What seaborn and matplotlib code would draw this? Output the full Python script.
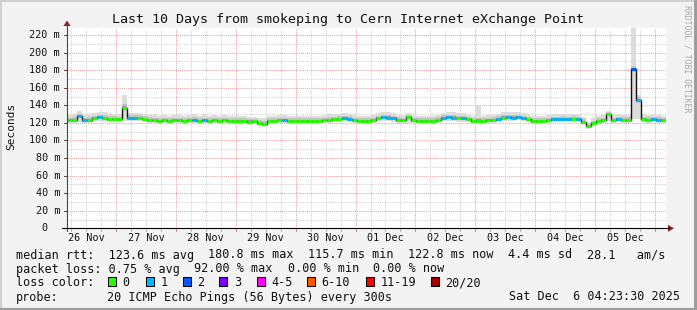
import numpy as np
import pandas as pd
import matplotlib
matplotlib.use("Agg")
import matplotlib.pyplot as plt
from matplotlib.lines import Line2D
from matplotlib.patches import Rectangle, Polygon
import seaborn as sns

# ---------------- data ----------------
title = "Last 10 Days from smokeping to Cern Internet eXchange Point"
end_time = pd.Timestamp("2025-12-06 04:23:30")
span_days = 10
step_hours = 2

median_ms = [
    123, 123, 128, 123, 123.5, 125, 127, 125, 124.5, 124.5,
    124, 137, 126, 126, 126, 124.5, 123.5, 123, 122.5, 123,
    122.5, 123, 123, 122.5, 123, 123.5, 122.5, 123, 122.5, 123,
    122.5, 123, 122.5, 122, 122.5, 122, 121.5, 122, 120, 119,
    122, 122.5, 123, 123, 122.5, 122.5, 122, 122.5, 122, 122.5,
    122.5, 123, 123.5, 124, 124.5, 125, 124.5, 123, 122.5, 122.5,
    122.5, 123, 125, 126.5, 126, 125, 123.5, 123, 127, 123,
    122.5, 122.5, 122.5, 122.5, 123.5, 126, 126.5, 126, 125, 125,
    124, 122.5, 122, 122.5, 123, 123.5, 124.5, 126, 126.5, 126,
    127, 125.5, 124, 122.5, 122, 122.5, 123, 124, 124, 124.5,
    124, 124.5, 124, 121, 116.5, 119.5, 122.5, 123, 130, 123,
    124, 123.5, 123.5, 180.8, 146, 124, 123.5, 124, 123.5, 122.8,
]
smoke_hi_ms = [
    129, 130, 133, 129, 130, 131, 132, 132, 131, 130,
    130, 152, 131, 131, 131, 130, 129, 129, 128, 129,
    128, 129, 129, 128, 129, 130, 128, 129, 128, 129,
    128, 129, 128, 128, 128, 128, 127, 127, 126, 125,
    128, 128, 129, 129, 128, 128, 128, 128, 128, 128,
    128, 129, 130, 130, 130, 131, 130, 129, 128, 128,
    128, 129, 131, 132, 132, 131, 129, 129, 131, 129,
    128, 128, 128, 128, 129, 131, 132, 132, 131, 131,
    130, 128, 140, 128, 129, 129, 130, 132, 132, 132,
    132, 131, 130, 128, 128, 128, 129, 130, 130, 130,
    130, 130, 130, 127, 121, 125, 128, 129, 134, 129,
    130, 129, 129, 228, 152, 130, 129, 130, 129, 128,
]
smoke_lo_ms = [
    119.5, 119.5, 121, 119.5, 120, 121, 122, 121, 121, 121,
    120.5, 122, 122, 122, 122, 121, 120, 119.5, 119, 119.5,
    119, 119.5, 119.5, 119, 119.5, 120, 119, 119.5, 119, 119.5,
    119, 119.5, 119, 118.5, 119, 118.5, 118, 118.5, 116.5, 115.5,
    118.5, 119, 119.5, 119.5, 119, 119, 118.5, 119, 118.5, 119,
    119, 119.5, 120, 120.5, 121, 121.5, 121, 119.5, 119, 119,
    119, 119.5, 121, 122.5, 122, 121, 120, 119.5, 120, 119.5,
    119, 119, 119, 119, 120, 122, 122.5, 122, 121, 121,
    120.5, 119, 118.5, 119, 119.5, 120, 121, 122, 122.5, 122,
    123, 122, 120.5, 119, 118.5, 119, 119.5, 120.5, 120.5, 121,
    120.5, 121, 120.5, 117.5, 113.5, 116, 119, 119.5, 122, 119.5,
    120.5, 120, 120, 124, 124, 120.5, 120, 120.5, 120, 119.5,
]
loss_pings = [
    0, 0, 1, 1, 0, 0, 1, 0, 0, 0,
    0, 0, 1, 1, 0, 0, 0, 0, 0, 0,
    0, 0, 0, 0, 0, 1, 0, 1, 0, 0,
    0, 0, 0, 0, 0, 0, 0, 0, 0, 0,
    0, 0, 0, 1, 0, 0, 0, 0, 0, 0,
    0, 0, 0, 0, 0, 1, 1, 0, 0, 0,
    0, 0, 0, 1, 1, 1, 0, 0, 0, 0,
    0, 0, 0, 0, 0, 1, 1, 1, 0, 1,
    0, 0, 0, 0, 0, 0, 1, 0, 1, 1,
    1, 1, 0, 0, 0, 0, 0, 1, 1, 1,
    1, 0, 1, 0, 0, 0, 0, 0, 0, 0,
    1, 0, 0, 2, 1, 0, 0, 1, 1, 0,
]

ytick_values = [0, 20, 40, 60, 80, 100, 120, 140, 160, 180, 200, 220]
ytick_labels = ["0", "20 m", "40 m", "60 m", "80 m", "100 m", "120 m",
                "140 m", "160 m", "180 m", "200 m", "220 m"]
y_label = "Seconds"

loss_names = ["0", "1", "2", "3", "4-5", "6-10", "11-19", "20/20"]
loss_colors = ["#26ff00", "#00b8ff", "#0059ff", "#7e00ff",
               "#ff00ff", "#ff5500", "#ff0000", "#a10000"]

legend_rtt = ["median rtt:  123.6 ms avg", "180.8 ms max", "115.7 ms min",
              "122.8 ms now", "4.4 ms sd", "28.1   am/s"]
legend_loss = ["packet loss: 0.75 % avg", "92.00 % max", "0.00 % min", "0.00 % now"]
legend_probe = "20 ICMP Echo Pings (56 Bytes) every 300s"
stamp = "Sat Dec  6 04:23:30 2025"
watermark = "RRDTOOL / TOBI OETIKER"

# ---------------- figure ----------------
sns.set_theme(style="white")
plt.rcParams["font.family"] = ["DejaVu Sans Mono", "DejaVu Sans"]

W, H = 697, 310
fig = plt.figure(figsize=(W / 100, H / 100), dpi=100)
fig.patch.set_facecolor("#f3f3f3")

def fx(x):
    return x / W

def fy(y):
    return 1 - y / H

def ftext(x, y, s, **kw):
    fig.text(fx(x), fy(y), s, **kw)

def fline(xs, ys, **kw):
    fig.add_artist(Line2D([fx(v) for v in xs], [fy(v) for v in ys],
                          transform=fig.transFigure, **kw))

# border (3D shade)
fline([0, W], [1, 1], color="#d0d0d0", lw=1.5)
fline([1, 1], [0, H], color="#d0d0d0", lw=1.5)
fline([0, W], [H - 1, H - 1], color="#9c9c9c", lw=2.2)
fline([W - 1.5, W - 1.5], [0, H], color="#9c9c9c", lw=2.8)

x0, x1 = 67, 666
y0, y1 = 228.3, 27.5
ymax = (y0 - y1) / 0.8786
ax = fig.add_axes([fx(x0), fy(y0), (x1 - x0) / W, (y0 - y1) / H])
ax.set_facecolor("white")

start_time = end_time - pd.Timedelta(days=span_days)
n = len(median_ms)
times = pd.date_range(start_time, periods=n, freq=f"{step_hours}h")
times_ext = list(times) + [end_time]

med = np.array(median_ms, dtype=float)
hi = np.array(smoke_hi_ms, dtype=float)
lo = np.array(smoke_lo_ms, dtype=float)
med_e = np.append(med, med[-1])
hi_e = np.append(hi, hi[-1])
lo_e = np.append(lo, lo[-1])

ax.set_xlim(start_time, end_time)
ax.set_ylim(0, ymax)

# grid
dot = (0, (1, 1))
for v in range(10, int(ymax) + 1, 10):
    col = "#e8a4a4" if v % 20 == 0 else "#d2d2d2"
    ax.axhline(v, color=col, lw=0.75, ls=dot, zorder=0.5)
for t in pd.date_range(start_time.ceil("6h"), end_time, freq="6h"):
    col = "#e8a4a4" if t.hour == 0 else "#d2d2d2"
    ax.axvline(t, color=col, lw=0.75, ls=dot, zorder=0.5)

# smoke (light outer range, darker shades close to the median)
up = hi_e - med_e
dn = med_e - lo_e
ax.fill_between(times_ext, lo_e, hi_e, step="post", color="#dcdcdc", lw=0, zorder=1)
ax.fill_between(times_ext, med_e - np.minimum(0.55 * dn, 3.0), med_e + np.minimum(0.5 * up, 4.0),
                step="post", color="#c2c2c2", lw=0, zorder=1.1)
ax.fill_between(times_ext, med_e - np.minimum(0.25 * dn, 1.5), med_e + np.minimum(0.22 * up, 2.0),
                step="post", color="#9e9e9e", lw=0, zorder=1.2)

# median
df = pd.DataFrame({"time": times_ext, "median": med_e})
sns.lineplot(data=df, x="time", y="median", estimator=None, drawstyle="steps-post",
             color="#111111", lw=1.0, ax=ax, zorder=2)
ax.hlines(med, times_ext[:-1], times_ext[1:],
          colors=[loss_colors[l] for l in loss_pings], lw=2.1, zorder=3)

for s in ax.spines.values():
    s.set_visible(False)
ax.set_xlabel("")
ax.set_ylabel("")
ax.set_yticks([])
noons = pd.date_range(start_time.normalize() + pd.Timedelta(hours=12), end_time, freq="D")
ax.set_xticks(noons, [t.strftime("%d %b") for t in noons])
ax.tick_params(axis="x", length=0, pad=3.6, labelsize=7.3, labelcolor="#111111")

# y tick labels
cw = 6.05
for v, lab in zip(ytick_values, ytick_labels):
    ypix = y0 - v * 0.8786
    xr = 60 if lab.endswith("m") else 60 - 2 * cw
    ftext(xr, ypix, lab, ha="right", va="center", fontsize=7.3, color="#111111")
    fline([64, 67], [ypix, ypix], color="#444444", lw=0.75)

# small x ticks
for t in pd.date_range(start_time.ceil("6h"), end_time, freq="6h"):
    xp = x0 + (t - start_time) / (end_time - start_time) * (x1 - x0)
    col = "#e08080" if t.hour == 0 else "#b0b0b0"
    fline([xp, xp], [y0 + 0.5, y0 + 3], color=col, lw=0.75)

# axes lines + arrows
fline([67, 67], [y0 + 3, 24], color="#444444", lw=0.8)
fline([62, 669], [y0, y0], color="#000000", lw=0.8)
fig.add_artist(Polygon([(fx(63.5), fy(26)), (fx(70.5), fy(26)), (fx(67), fy(20.5))],
                       closed=True, transform=fig.transFigure, color="#9b1c1c", lw=0))
fig.add_artist(Polygon([(fx(668), fy(y0 - 3.5)), (fx(668), fy(y0 + 3.5)), (fx(674), fy(y0))],
                       closed=True, transform=fig.transFigure, color="#9b1c1c", lw=0))

# title / labels
ftext(347.5, 23, title, ha="center", va="baseline", fontsize=9.6, color="#111111")
ftext(11, 126.5, y_label, ha="center", va="center", rotation=90, fontsize=8.0,
      color="#111111")
ftext(687, 59, watermark, ha="center", va="center", rotation=270, fontsize=5.9,
      color="#a8a8a8")

# legend rows
lf = 8.43
rtt_x = [16, 208, 308, 408, 508, 587]
for x, s in zip(rtt_x, legend_rtt):
    ftext(x, 258.5, s, ha="left", va="baseline", fontsize=lf, color="#111111")
loss_x = [16, 194, 288, 373]
for x, s in zip(loss_x, legend_loss):
    ftext(x, 272.5, s, ha="left", va="baseline", fontsize=lf, color="#111111")
ftext(16, 286.5, "loss color:", ha="left", va="baseline", fontsize=lf, color="#111111")
box_x = [108, 145.7, 182.7, 219.3, 256.7, 306.7, 365.7, 431]
for bx, name, col in zip(box_x, loss_names, loss_colors):
    fig.add_artist(Rectangle((fx(bx), fy(286)), 8 / W, 9 / H, transform=fig.transFigure,
                             facecolor=col, edgecolor="#000000", lw=0.75))
    ftext(bx + 14.5, 286.5, name, ha="left", va="baseline", fontsize=lf, color="#111111")
ftext(16, 300.5, "probe:", ha="left", va="baseline", fontsize=lf, color="#111111")
ftext(107, 300.5, legend_probe, ha="left", va="baseline", fontsize=lf, color="#111111")
ftext(680, 300.5, stamp, ha="right", va="baseline", fontsize=lf, color="#111111")

fig.savefig("out.png", dpi=100, facecolor=fig.get_facecolor())
